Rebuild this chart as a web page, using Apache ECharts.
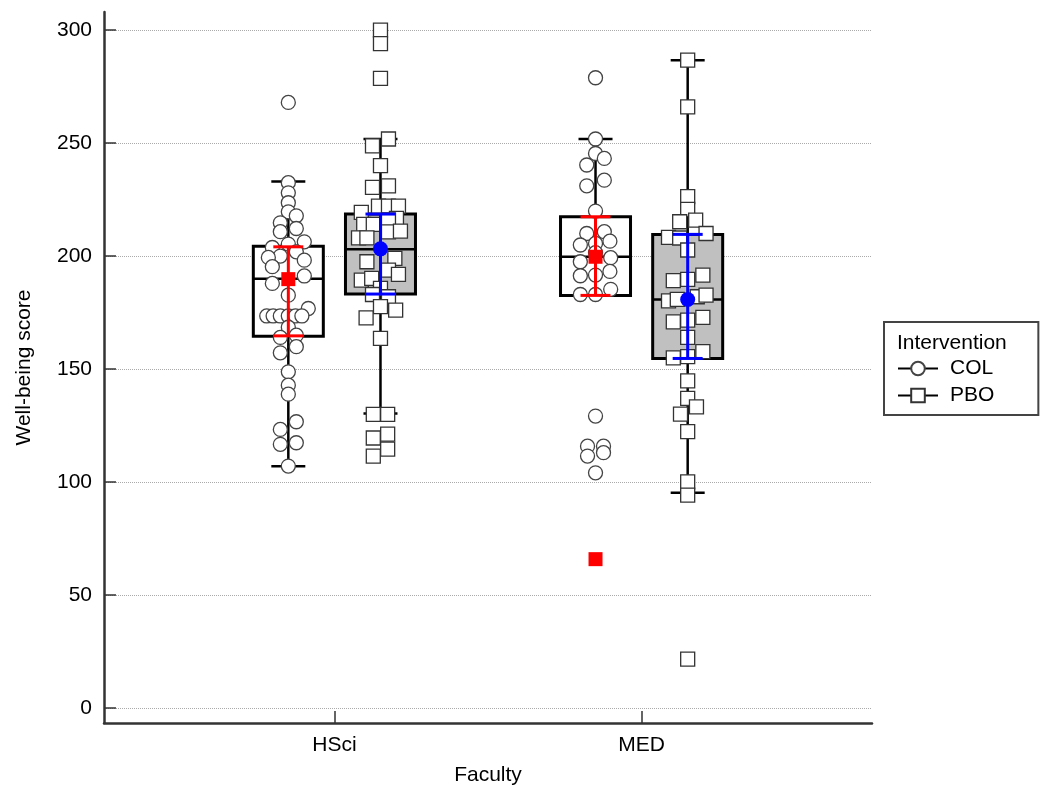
<!DOCTYPE html>
<html>
<head>
<meta charset="utf-8">
<script src="https://cdn.jsdelivr.net/npm/echarts@6/dist/echarts.min.js"></script>
<style>
  html, body { margin: 0; padding: 0; background: #fff; }
  #chart { width: 1041px; height: 789px; }
</style>
</head>
<body>
<div id="chart"></div>
<script>
const FACULTIES = ["HSci", "MED"];
const Y_TICKS = [0, 50, 100, 150, 200, 250, 300];

// [lower whisker, Q1, median, Q3, upper whisker] per faculty
const COL_BOX = [[107, 164.5, 190, 204.3, 233], [182.6, 182.6, 199.7, 217.4, 251.8]];
const PBO_BOX = [[130.4, 183.2, 203, 218.6, 251.8], [95.3, 154.7, 180.8, 209.5, 286.7]];

// [mean, low, high] per faculty
const COL_MEAN = [[189.8, 164.7, 204.1], [199.7, 182.6, 217.4]];
const PBO_MEAN = [[203.2, 183.2, 218.6], [180.8, 154.7, 209.6]];

// far-out values marked with a filled square: [faculty index, score]
const COL_FAR = [[1, 65.9]];

// individual scores: [jitter slot, score]
const HSCI_COL = [
  [0, 268], [0, 232.5], [0, 228], [0, 223.6], [0, 219.6], [1, 217.8], [-1, 214.7],
  [1, 212.2], [-1, 210.8], [2, 206.3], [0, 205.3], [-2, 203.8], [1, 201.9], [-1, 200],
  [-2.5, 199.4], [2, 198.2], [-2, 195.3], [2, 191.2], [-2, 187.9], [0, 182.7], [2.5, 176.8],
  [-2.7, 173.5], [-1.9, 173.5], [-1, 173.5], [0, 173.5], [0.9, 173.5], [1.7, 173.5],
  [0, 168.5], [-1, 164], [1, 165], [-1, 157.2], [1, 159.9], [0, 148.8], [0, 142.9],
  [0, 138.9], [-1, 123.3], [1, 126.7], [-1, 116.7], [1, 117.4], [0, 107.1],
];
const HSCI_PBO = [
  [0, 300], [0, 294], [0, 278.6], [1, 251.8], [-1, 248.8], [0, 240], [-1, 230.4], [1, 231.1],
  [-0.25, 222.1], [1, 222.1], [2.25, 222.1], [-2.4, 219.3], [2, 216.7], [-2.1, 214], [-0.9, 214],
  [1, 216], [-2.75, 208.1], [-1.7, 208.1], [1, 210.7], [2.5, 211], [-1.7, 197.5], [1.8, 199],
  [1, 193.8], [2.25, 191.9], [-2.4, 189.4], [-1.1, 190.1], [0, 185.7], [-1, 183], [1, 182],
  [0, 177.6], [1.9, 176.1], [-1.8, 172.7], [0, 163.6], [-0.9, 130], [0.9, 130], [0.9, 121.2],
  [-0.9, 119.5], [0.9, 114.6], [-0.9, 111.5],
];
const MED_COL = [
  [0, 278.9], [0, 251.8], [0, 245.4], [1.1, 243.2], [-1.1, 240.3], [1.1, 233.6], [-1.1, 231.1],
  [0, 219.9], [-1.1, 210], [1.1, 210.8], [-1.9, 204.9], [0, 205.6], [1.8, 206.6], [-1.9, 197.5],
  [1.9, 199.3], [0, 201.5], [-1.9, 191.3], [0, 191.6], [1.8, 193.2], [-1.9, 183], [0, 183],
  [1.9, 185.3], [0, 129.2], [-1, 115.9], [1, 115.9], [-1, 111.5], [1, 113], [0, 104.1],
];
const MED_PBO = [
  [0, 286.7], [0, 266], [0, 226.3], [0, 220.7], [-1, 215.2], [1, 215.9], [-2.4, 208.3],
  [2.3, 210], [-1, 208], [0, 202.7], [-1.8, 189.1], [0, 189.7], [1.9, 191.6], [-2.4, 180.2],
  [-1.3, 180.8], [1.2, 182], [2.3, 182.7], [-1.8, 170.9], [0, 171.7], [1.9, 172.9], [0, 164],
  [-1.8, 155], [0, 155.5], [1.9, 157.7], [0, 144.8], [0, 137], [1.1, 133.3], [-0.9, 130.1],
  [0, 122.3], [0, 100.1], [0, 94.2], [0, 21.7],
];

const OFFSET = { COL: -0.15, PBO: 0.15 };
const SLOT = 0.026;
const FONT = "Liberation Sans, Arial, sans-serif";
const FS = 21;

const xOf = (i, grp) => i + 1 + OFFSET[grp];

function jitter(points, i, grp) {
  return points.map(([s, v]) => [xOf(i, grp) + s * SLOT, v]);
}

function boxData(stats, grp) {
  return stats.map((s, i) => [xOf(i, grp), ...s]);
}

function meanData(means, grp) {
  return means.map((m, i) => [xOf(i, grp), ...m]);
}

function boxRenderer(fill) {
  return (params, api) => {
    const x = api.value(0);
    const [lo, q1, md, q3, hi] = [1, 2, 3, 4, 5].map(k => api.coord([x, api.value(k)]));
    const cx = lo[0], hw = 35, cw = 17;
    const stroke = { stroke: "#000", lineWidth: 2.5 };
    return {
      type: "group",
      children: [
        { type: "line", shape: { x1: cx, y1: hi[1], x2: cx, y2: q3[1] }, style: stroke },
        { type: "line", shape: { x1: cx, y1: q1[1], x2: cx, y2: lo[1] }, style: stroke },
        { type: "line", shape: { x1: cx - cw, y1: hi[1], x2: cx + cw, y2: hi[1] }, style: stroke },
        { type: "line", shape: { x1: cx - cw, y1: lo[1], x2: cx + cw, y2: lo[1] }, style: stroke },
        { type: "rect", shape: { x: cx - hw, y: q3[1], width: hw * 2, height: q1[1] - q3[1] },
          style: { fill, stroke: "#000", lineWidth: 3 } },
        { type: "line", shape: { x1: cx - hw, y1: md[1], x2: cx + hw, y2: md[1] }, style: stroke },
      ],
    };
  };
}

function errRenderer(color) {
  return (params, api) => {
    const x = api.value(0);
    const lo = api.coord([x, api.value(2)]);
    const hi = api.coord([x, api.value(3)]);
    const cx = lo[0], cw = 15;
    const st = { stroke: color, lineWidth: 3 };
    return {
      type: "group",
      children: [
        { type: "line", shape: { x1: cx, y1: hi[1], x2: cx, y2: lo[1] }, style: st },
        { type: "line", shape: { x1: cx - cw, y1: hi[1], x2: cx + cw, y2: hi[1] }, style: st },
        { type: "line", shape: { x1: cx - cw, y1: lo[1], x2: cx + cw, y2: lo[1] }, style: st },
      ],
    };
  };
}

const circleStyle = { color: "#fff", borderColor: "#444", borderWidth: 1.3, opacity: 1 };
const squareStyle = { color: "#fff", borderColor: "#333", borderWidth: 1.3, opacity: 1 };

function pointSeries(data, symbol, style) {
  return {
    type: "scatter", data, symbol, symbolSize: 14, z: 3,
    itemStyle: style, emphasis: { disabled: true }, silent: true,
  };
}

const chart = echarts.init(document.getElementById("chart"));

chart.setOption({
  animation: false,
  textStyle: { fontFamily: FONT },
  title: {
    text: "Intervention", left: 892, top: 328,
    textStyle: { fontFamily: FONT, fontSize: FS, fontWeight: "normal", color: "#000" },
  },
  legend: {
    data: ["COL", "PBO"], orient: "vertical", left: 884, top: 322,
    padding: [36, 44, 9, 13], itemWidth: 40, itemHeight: 17, itemGap: 6,
    borderColor: "#444", borderWidth: 2, selectedMode: false,
    textStyle: { fontFamily: FONT, fontSize: FS, color: "#000", padding: [0, 0, 0, 7] },
  },
  grid: { left: 104, right: 169, top: 12, bottom: 66, outerBoundsMode: "none" },
  xAxis: {
    type: "value", min: 0.25, max: 2.75,
    name: "Faculty", nameLocation: "middle", nameGap: 42,
    nameTextStyle: { fontFamily: FONT, fontSize: FS, color: "#000" },
    axisLine: { onZero: false, lineStyle: { color: "#333", width: 2.5 } },
    axisTick: { inside: true, length: 12, customValues: [1, 2], lineStyle: { color: "#333", width: 1.5 } },
    axisLabel: {
      customValues: [1, 2], margin: 12, fontSize: FS, color: "#000", fontFamily: FONT,
      formatter: v => FACULTIES[Math.round(v) - 1] || "",
    },
    splitLine: { show: false },
  },
  yAxis: {
    type: "value", min: -6.6, max: 308,
    name: "Well-being score", nameLocation: "middle", nameGap: 69,
    nameTextStyle: { fontFamily: FONT, fontSize: FS, color: "#000" },
    axisLine: { show: true, lineStyle: { color: "#333", width: 2.5 } },
    axisTick: { show: true, inside: true, length: 12, customValues: Y_TICKS, lineStyle: { color: "#333", width: 1.5 } },
    axisLabel: { customValues: Y_TICKS, margin: 12, fontSize: FS, color: "#000", fontFamily: FONT },
    splitLine: { show: true, lineStyle: { color: "#aaa", type: "dotted", width: 1 } },
  },
  series: [
    {
      type: "custom", renderItem: boxRenderer("#fff"), data: boxData(COL_BOX, "COL"),
      encode: { x: 0, y: [1, 2, 3, 4, 5] }, z: 2, silent: true,
    },
    {
      type: "custom", renderItem: boxRenderer("#c0c0c0"), data: boxData(PBO_BOX, "PBO"),
      encode: { x: 0, y: [1, 2, 3, 4, 5] }, z: 2, silent: true,
    },
    pointSeries(jitter(HSCI_COL, 0, "COL"), "circle", circleStyle),
    pointSeries(jitter(MED_COL, 1, "COL"), "circle", circleStyle),
    pointSeries(jitter(HSCI_PBO, 0, "PBO"), "rect", squareStyle),
    pointSeries(jitter(MED_PBO, 1, "PBO"), "rect", squareStyle),
    {
      type: "scatter", symbol: "rect", symbolSize: 14, z: 3, silent: true,
      data: COL_FAR.map(([i, v]) => [xOf(i, "COL"), v]),
      itemStyle: { color: "#ff0000", opacity: 1 },
    },
    {
      type: "custom", renderItem: errRenderer("#ff0000"), data: meanData(COL_MEAN, "COL"),
      encode: { x: 0, y: [1, 2, 3] }, z: 4, silent: true,
    },
    {
      type: "custom", renderItem: errRenderer("#0000ff"), data: meanData(PBO_MEAN, "PBO"),
      encode: { x: 0, y: [1, 2, 3] }, z: 4, silent: true,
    },
    {
      type: "scatter", symbol: "rect", symbolSize: 14, z: 5, silent: true,
      data: COL_MEAN.map((m, i) => [xOf(i, "COL"), m[0]]), itemStyle: { color: "#ff0000", opacity: 1 },
    },
    {
      type: "scatter", symbol: "circle", symbolSize: 15, z: 5, silent: true,
      data: PBO_MEAN.map((m, i) => [xOf(i, "PBO"), m[0]]), itemStyle: { color: "#0000ff", opacity: 1 },
    },
    // legend entries only
    {
      name: "COL", type: "line", data: [], symbol: "circle", symbolSize: 14,
      itemStyle: circleStyle, lineStyle: { color: "#000", width: 2 },
    },
    {
      name: "PBO", type: "line", data: [], symbol: "rect", symbolSize: 14,
      itemStyle: squareStyle, lineStyle: { color: "#000", width: 2 },
    },
  ],
});
</script>
</body>
</html>
